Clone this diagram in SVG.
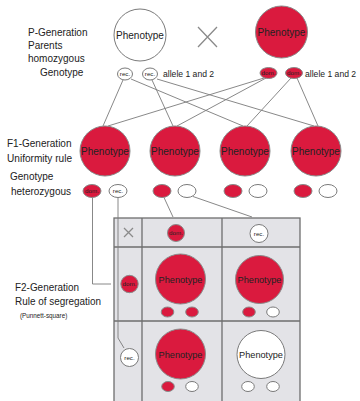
<svg xmlns="http://www.w3.org/2000/svg" width="360" height="401" viewBox="0 0 360 401">
<style>
text{font-family:"Liberation Sans",Arial,sans-serif;fill:#222}
.lbl{font-size:10px}
.al{font-size:8.6px}
.ph{font-size:10px;text-anchor:middle}
.ph2{font-size:9.2px;text-anchor:middle}
.sm{font-size:6.2px;text-anchor:middle}
.red{fill:#da1a3e;stroke:#8a8a8a;stroke-width:1}
.wht{fill:#fff;stroke:#7a7a7a;stroke-width:1}
.con{fill:none;stroke:#7a7a7a;stroke-width:0.9}
.grid{fill:#e3e3e7;stroke:#6e6e6e;stroke-width:1.3}
.gl{stroke:#6e6e6e;stroke-width:1.3}
.x{stroke:#8a8a8a;stroke-width:1.3;fill:none}
</style>
<rect width="360" height="401" fill="#fff"/>

<g id="labels">
<text class="lbl" x="28" y="36">P-Generation</text>
<text class="lbl" x="28" y="49">Parents</text>
<text class="lbl" x="28" y="62">homozygous</text>
<text class="lbl" x="40" y="76">Genotype</text>
<text class="al" x="163" y="77">allele 1 and 2</text>
<text class="al" x="305" y="77">allele 1 and 2</text>
<text class="lbl" x="7" y="147">F1-Generation</text>
<text class="lbl" x="7" y="162" textLength="65" lengthAdjust="spacingAndGlyphs">Uniformity rule</text>
<text class="lbl" x="10" y="180">Genotype</text>
<text class="lbl" x="11" y="195">heterozygous</text>
<text class="lbl" x="15" y="291" textLength="64" lengthAdjust="spacingAndGlyphs">F2-Generation</text>
<text class="lbl" x="15" y="305" textLength="86" lengthAdjust="spacingAndGlyphs">Rule of segregation</text>
<text x="20" y="318" font-size="6.3">(Punnett-square)</text>
</g>

<g id="grid">
<rect class="grid" x="114" y="218" width="186" height="190"/>
<line class="gl" x1="142" y1="218" x2="142" y2="401"/>
<line class="gl" x1="222" y1="218" x2="222" y2="401"/>
<line class="gl" x1="114" y1="247" x2="300" y2="247"/>
<line class="gl" x1="114" y1="321" x2="300" y2="321"/>
</g>

<g id="connectors">
<line class="con" x1="123" y1="80" x2="103" y2="126"/>
<line class="con" x1="131" y1="79" x2="243" y2="126"/>
<line class="con" x1="152" y1="80" x2="173" y2="126"/>
<line class="con" x1="157" y1="79" x2="314" y2="126"/>
<line class="con" x1="264" y1="78" x2="108" y2="126"/>
<line class="con" x1="266" y1="78" x2="177" y2="126"/>
<line class="con" x1="291" y1="78" x2="247" y2="126"/>
<line class="con" x1="297" y1="78" x2="318" y2="126"/>
<path class="con" d="M92.5,197.5 V284 H111"/>
<path class="con" d="M118,197.5 V338 L124,348"/>
<line class="con" x1="164" y1="197.5" x2="173" y2="217"/>
<line class="con" x1="193" y1="196.5" x2="252" y2="217"/>
</g>

<g id="p-white">
<circle class="wht" cx="140" cy="35" r="26"/>
<text class="ph" x="140" y="38.5">Phenotype</text>
</g>
<g id="cross">
<path class="x" d="M198,27 L217,47 M217,27 L198,47"/>
</g>
<g id="p-red">
<circle class="red" cx="281.5" cy="32" r="26"/>
<text class="ph" x="281.5" y="35.5">Phenotype</text>
</g>
<g id="p-rec1"><ellipse class="wht" cx="125" cy="74" rx="7.5" ry="6"/><text class="sm" x="125" y="76.2">rec.</text></g>
<g id="p-rec2"><ellipse class="wht" cx="150" cy="74" rx="7.5" ry="6"/><text class="sm" x="150" y="76.2">rec.</text></g>
<g id="p-dom1"><ellipse class="red" cx="268.5" cy="73" rx="8.5" ry="5.5"/><text class="sm" x="268.5" y="75.2">dom.</text></g>
<g id="p-dom2"><ellipse class="red" cx="294" cy="73" rx="8.5" ry="5.5"/><text class="sm" x="294" y="75.2">dom.</text></g>

<g id="f1-1">
<circle class="red" cx="105" cy="151" r="25"/>
<text class="ph" x="105" y="154.5">Phenotype</text>
<ellipse class="red" cx="92" cy="191" rx="9" ry="6.5"/><text class="sm" x="92" y="193.2">dom.</text>
<ellipse class="wht" cx="118" cy="191" rx="9" ry="6.5"/><text class="sm" x="118" y="193.2">rec.</text>
</g>
<g id="f1-2">
<circle class="red" cx="175" cy="151" r="25"/>
<text class="ph" x="175" y="154.5">Phenotype</text>
<ellipse class="red" cx="162" cy="191" rx="9" ry="6.5"/>
<ellipse class="wht" cx="187" cy="191" rx="9" ry="6.5"/>
</g>
<g id="f1-3">
<circle class="red" cx="245" cy="151" r="25"/>
<text class="ph" x="245" y="154.5">Phenotype</text>
<ellipse class="red" cx="233" cy="191" rx="9" ry="6.5"/>
<ellipse class="wht" cx="258" cy="191" rx="9" ry="6.5"/>
</g>
<g id="f1-4">
<circle class="red" cx="316" cy="151" r="25"/>
<text class="ph" x="316" y="154.5">Phenotype</text>
<ellipse class="red" cx="303" cy="191" rx="9" ry="6.5"/>
<ellipse class="wht" cx="328" cy="191" rx="9" ry="6.5"/>
</g>

<g id="f2-header">
<path class="x" d="M124,228 L133,237 M133,228 L124,237"/>
<circle class="red" cx="176" cy="233" r="8.5"/><text class="sm" x="176" y="235.2">dom.</text>
<circle class="wht" cx="259" cy="233.5" r="9"/><text class="sm" x="259" y="235.7">rec.</text>
</g>
<g id="f2-row1-allele"><circle class="red" cx="129.5" cy="284" r="8.7"/><text class="sm" x="129.5" y="286.2">dom.</text></g>
<g id="f2-row2-allele"><circle class="wht" cx="129.5" cy="357.5" r="9"/><text class="sm" x="129.5" y="359.7">rec.</text></g>
<g id="f2-11">
<circle class="red" cx="180.5" cy="279" r="25"/>
<text class="ph2" x="180.5" y="282.5">Phenotype</text>
<ellipse class="red" cx="167.5" cy="312" rx="6.3" ry="5"/>
<ellipse class="red" cx="192" cy="312" rx="6.3" ry="5"/>
</g>
<g id="f2-12">
<circle class="red" cx="259.5" cy="279.5" r="24"/>
<text class="ph2" x="259.5" y="283">Phenotype</text>
<ellipse class="red" cx="249" cy="312" rx="6.3" ry="5"/>
<ellipse class="wht" cx="273" cy="312" rx="6.3" ry="5"/>
</g>
<g id="f2-21">
<circle class="red" cx="180.5" cy="354" r="25"/>
<text class="ph2" x="180.5" y="357.5">Phenotype</text>
<ellipse class="red" cx="168" cy="386.5" rx="6.3" ry="5"/>
<ellipse class="wht" cx="192" cy="386.5" rx="6.3" ry="5"/>
</g>
<g id="f2-22">
<circle class="wht" cx="261" cy="354.5" r="24"/>
<text class="ph2" x="261" y="358">Phenotype</text>
<ellipse class="wht" cx="248" cy="386.5" rx="6.3" ry="5"/>
<ellipse class="wht" cx="273" cy="386.5" rx="6.3" ry="5"/>
</g>
</svg>
